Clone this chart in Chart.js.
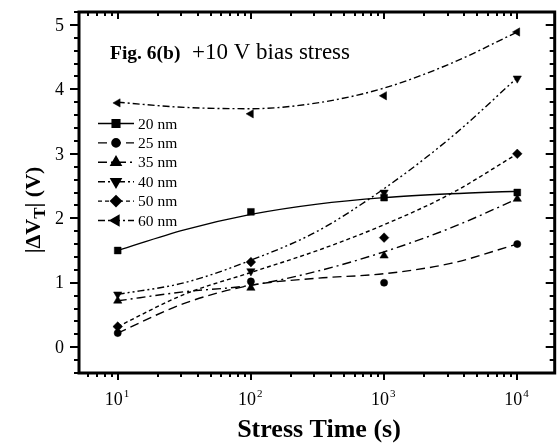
<!DOCTYPE html>
<html>
<head>
<meta charset="utf-8">
<script src="https://cdn.jsdelivr.net/npm/chart.js@4/dist/chart.umd.min.js"></script>
<style>
html,body{margin:0;padding:0;background:#fff;}
canvas{display:block;}
</style>
</head>
<body>
<canvas id="c" width="560" height="444"></canvas>
<script>
// ---- data ----
const stressTimes = [10, 100, 1000, 10000];
const fitTimes = [10, 31.6, 100, 316, 1000, 3162, 10000];
const seriesNames = ['20 nm', '25 nm', '35 nm', '40 nm', '50 nm', '60 nm'];

const pts20 = [1.50, 2.10, 2.32, 2.40];
const pts25 = [0.22, 1.02, 1.00, 1.60];
const pts35 = [0.72, 0.92, 1.42, 2.30];
const pts40 = [0.82, 1.18, 2.40, 4.17];
const pts50 = [0.32, 1.32, 1.70, 3.00];
const pts60 = [3.79, 3.62, 3.90, 4.89];

const fit20 = [1.50, 1.82, 2.06, 2.22, 2.32, 2.38, 2.42];
const fit25 = [0.22, 0.68, 0.96, 1.07, 1.14, 1.30, 1.60];
const fit35 = [0.72, 0.86, 0.96, 1.18, 1.48, 1.85, 2.30];
const fit40 = [0.82, 1.00, 1.35, 1.80, 2.46, 3.25, 4.18];
const fit50 = [0.32, 0.82, 1.16, 1.50, 1.90, 2.38, 3.00];
const fit60 = [3.80, 3.72, 3.70, 3.79, 4.02, 4.40, 4.89];

const yTickLabels = ['0', '1', '2', '3', '4', '5'];
const xTickExponents = ['1', '2', '3', '4'];

// ---- styles ----
const ptsAll = [pts20, pts25, pts35, pts40, pts50, pts60];
const fitAll = [fit20, fit25, fit35, fit40, fit50, fit60];
const markerStyles = ['rect', 'circle', 'triangle', 'triangle', 'rectRot', 'triangle'];
const markerRot = [0, 0, 0, 180, 0, 270];
const markerRad = [4.8, 3.6, 4.8, 4.8, 4.8, 4.8];
const legendRad = [4.3, 3.3, 4.3, 4.3, 4.3, 4.3];
const dashes = [[], [9, 5], [9, 4, 2, 4], [7, 3, 2, 3, 2, 3], [4, 3], [7, 3, 2, 3]];

const datasets = [];
for (let i = 0; i < 6; i++) {
  datasets.push({
    label: seriesNames[i] + ' fit',
    data: fitTimes.map((t, j) => ({x: t, y: fitAll[i][j]})),
    showLine: true, borderColor: '#000', borderWidth: 1.4, borderDash: dashes[i],
    pointRadius: 0, tension: 0.4, cubicInterpolationMode: 'monotone', fill: false
  });
}
for (let i = 0; i < 6; i++) {
  datasets.push({
    label: seriesNames[i],
    data: stressTimes.map((t, j) => ({x: t, y: ptsAll[i][j]})),
    showLine: false, pointStyle: markerStyles[i], rotation: markerRot[i],
    pointRadius: markerRad[i], pointBackgroundColor: '#000', pointBorderColor: '#000',
    pointBorderWidth: 0.5
  });
}

const SERIF = '"Liberation Serif", "Times New Roman", serif';

const axesPlugin = {
  id: 'axesPlugin',
  afterDraw(chart) {
    const ctx = chart.ctx;
    const a = chart.chartArea;
    const xs = chart.scales.x, ys = chart.scales.y;
    ctx.save();
    ctx.strokeStyle = '#000';
    ctx.fillStyle = '#000';
    // ticks
    ctx.lineWidth = 2;
    for (let e = 0; e <= 4; e++) {
      for (let m = 1; m <= 9; m++) {
        const v = m * Math.pow(10, e);
        if (v < xs.min || v > xs.max) continue;
        const px = Math.round(xs.getPixelForValue(v)) ;
        const L = m === 1 ? 7 : 4;
        ctx.beginPath();
        ctx.moveTo(px, a.bottom); ctx.lineTo(px, a.bottom + L);
        ctx.moveTo(px, a.top); ctx.lineTo(px, a.top + L);
        ctx.stroke();
      }
    }
    for (let k = -2; k <= 26; k++) {
      const v = k / 5;
      const py = Math.round(ys.getPixelForValue(v));
      const L = k % 5 === 0 ? 9 : 5;
      ctx.beginPath();
      ctx.moveTo(a.left, py); ctx.lineTo(a.left - L, py);
      ctx.moveTo(a.right, py); ctx.lineTo(a.right - L, py);
      ctx.stroke();
    }
    // frame
    ctx.lineWidth = 3;
    ctx.strokeRect(a.left, a.top, a.right - a.left, a.bottom - a.top);

    // y tick labels
    ctx.font = '18px ' + SERIF;
    ctx.textAlign = 'right';
    ctx.textBaseline = 'middle';
    yTickLabels.forEach(lbl => {
      ctx.fillText(lbl, a.left - 15, ys.getPixelForValue(Number(lbl)) + 1);
    });
    // x tick labels with superscript
    xTickExponents.forEach(ex => {
      const px = xs.getPixelForValue(Math.pow(10, Number(ex)));
      ctx.font = '18px ' + SERIF;
      ctx.textAlign = 'right';
      ctx.textBaseline = 'alphabetic';
      ctx.fillText('10', px + 5, 405);
      ctx.font = '11px ' + SERIF;
      ctx.textAlign = 'left';
      ctx.fillText(ex, px + 6, 397);
    });
    // x title
    ctx.font = 'bold 26px ' + SERIF;
    ctx.textAlign = 'center';
    ctx.textBaseline = 'alphabetic';
    ctx.fillText('Stress Time (s)', 319, 437);
    // y title (rotated)
    ctx.save();
    ctx.translate(40, 210);
    ctx.rotate(-Math.PI / 2);
    ctx.textAlign = 'left';
    ctx.textBaseline = 'alphabetic';
    const p1 = '|\u0394V', p2 = 'T', p3 = '| (V)';
    ctx.font = 'bold 22px ' + SERIF;
    const w1 = ctx.measureText(p1).width;
    ctx.font = 'bold 17px ' + SERIF;
    const w2 = ctx.measureText(p2).width;
    ctx.font = 'bold 22px ' + SERIF;
    const w3 = ctx.measureText(p3).width;
    let sx = -(w1 + w2 + w3) / 2;
    ctx.fillText(p1, sx, 0); sx += w1;
    ctx.font = 'bold 17px ' + SERIF;
    ctx.fillText(p2, sx, 5); sx += w2;
    ctx.font = 'bold 22px ' + SERIF;
    ctx.fillText(p3, sx, 0);
    ctx.restore();

    // annotation
    ctx.font = 'bold 19.5px ' + SERIF;
    ctx.textAlign = 'left';
    ctx.textBaseline = 'alphabetic';
    ctx.fillText('Fig. 6(b)', 110, 59);
    ctx.font = '23px ' + SERIF;
    ctx.fillText('+10 V bias stress', 192, 59);

    // legend
    for (let i = 0; i < 6; i++) {
      const y = 123.5 + i * 19.4;
      ctx.save();
      ctx.lineWidth = 1.4;
      ctx.setLineDash(dashes[i]);
      ctx.beginPath(); ctx.moveTo(98, y); ctx.lineTo(134, y); ctx.stroke();
      ctx.restore();
      Chart.helpers.drawPoint(ctx, {pointStyle: markerStyles[i], rotation: markerRot[i], radius: legendRad[i], borderWidth: 0.5}, 116, y);
      ctx.fill();
      ctx.font = '15.5px ' + SERIF;
      ctx.textAlign = 'left';
      ctx.textBaseline = 'middle';
      ctx.fillText(seriesNames[i], 138, y + 1);
    }
    ctx.restore();
  }
};

new Chart(document.getElementById('c'), {
  type: 'scatter',
  data: {datasets},
  options: {
    responsive: false,
    devicePixelRatio: 1,
    animation: false,
    layout: {padding: {top: 12, right: 2, left: 0, bottom: 0}},
    plugins: {legend: {display: false}, tooltip: {enabled: false}},
    scales: {
      x: {type: 'logarithmic', min: 5.12, max: 19100,
          ticks: {display: false}, grid: {display: false}, border: {display: false},
          afterFit(s) { s.height = 71; }},
      y: {type: 'linear', min: -0.4, max: 5.2,
          ticks: {display: false}, grid: {display: false}, border: {display: false},
          afterFit(s) { s.width = 79; }}
    }
  },
  plugins: [axesPlugin]
});
</script>
</body>
</html>
